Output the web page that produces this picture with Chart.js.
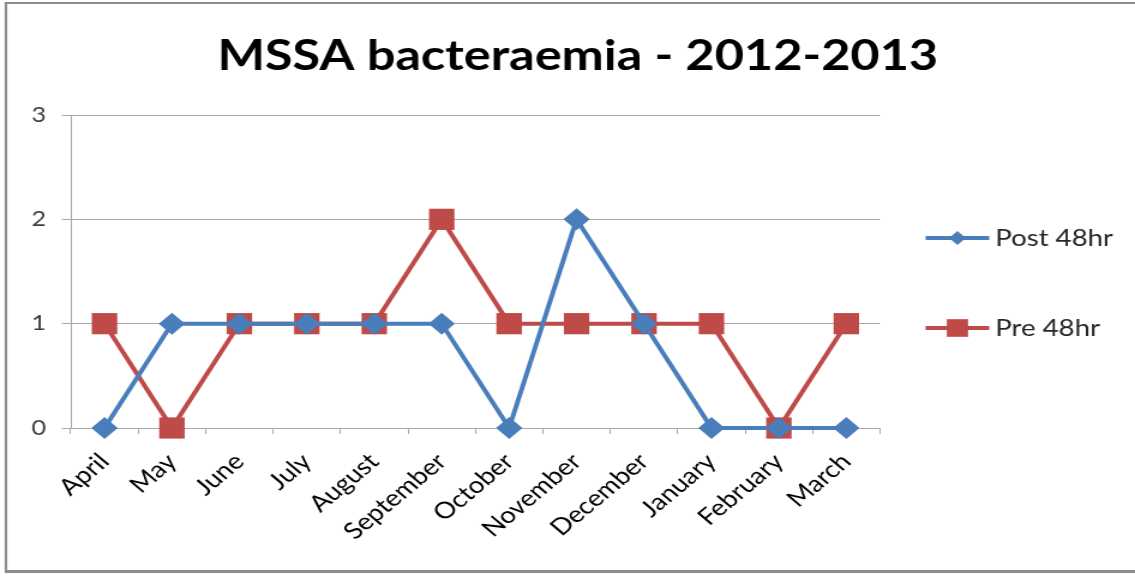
<!DOCTYPE html>
<html>
<head>
<meta charset="utf-8">
<script src="https://cdn.jsdelivr.net/npm/chart.js@4.4.1/dist/chart.umd.min.js"></script>
<style>
  html, body { margin: 0; padding: 0; background: #ffffff; overflow: hidden; }
  /* the drawing surface is laid out slightly narrower and shown widened to the page width */
  #chart { display: block; width: 1135px; height: 577px; }
</style>
</head>
<body>
<canvas id="chart" width="946" height="577" style="width:1135px;height:577px"></canvas>
<script>
// Monthly MSSA bacteraemia counts, April 2012 - March 2013
const months = ['April', 'May', 'June', 'July', 'August', 'September',
                'October', 'November', 'December', 'January', 'February', 'March'];
const post48hr = [0, 1, 1, 1, 1, 1, 0, 2, 1, 0, 0, 0];
const pre48hr  = [1, 0, 1, 1, 1, 2, 1, 1, 1, 1, 0, 1];
const yTicks = [0, 1, 2, 3];

const FONT = 'Lato, "Open Sans", sans-serif';
const BLUE = '#4a7ebb';
const RED = '#be4b48';
const GRID = '#a9a9a9';

// Outer frame around the chart
const framePlugin = {
  id: 'frame',
  beforeDraw(chart) {
    const ctx = chart.ctx;
    ctx.save();
    ctx.fillStyle = '#ffffff';
    ctx.fillRect(0, 0, chart.width, chart.height);
    ctx.strokeStyle = '#8c8c8c';
    ctx.lineWidth = 2.2;
    ctx.beginPath();
    ctx.moveTo(5, chart.height - 5);
    ctx.lineTo(5, 3);
    ctx.lineTo(chart.width + 2, 3);
    ctx.stroke();
    ctx.lineWidth = 3;
    ctx.beginPath();
    ctx.moveTo(4, chart.height - 5.5);
    ctx.lineTo(chart.width + 2, chart.height - 5.5);
    ctx.stroke();
    ctx.restore();
  }
};

// Legend on the right: line sample with marker, then label
const sideLegend = {
  id: 'sideLegend',
  afterDraw(chart) {
    const ctx = chart.ctx;
    const rows = [238, 328];
    const x0 = chart.chartArea.right + 38;
    chart.data.datasets.forEach((ds, i) => {
      const y = rows[i];
      ctx.save();
      ctx.strokeStyle = ds.borderColor;
      ctx.lineWidth = 4;
      ctx.beginPath();
      ctx.moveTo(x0, y);
      ctx.lineTo(x0 + 53, y);
      ctx.stroke();
      ctx.fillStyle = ds.backgroundColor;
      Chart.helpers.drawPoint(ctx, {
        pointStyle: ds.pointStyle,
        radius: ds.legendRadius,
        rotation: 0,
        borderWidth: 0
      }, x0 + 26.5, y);
      ctx.fillStyle = '#262626';
      ctx.font = '23px ' + FONT;
      ctx.textBaseline = 'middle';
      ctx.textAlign = 'left';
      ctx.fillText(ds.label, x0 + 58, y + 1);
      ctx.restore();
    });
  }
};

new Chart(document.getElementById('chart'), {
  type: 'line',
  data: {
    labels: months,
    datasets: [
      {
        label: 'Post 48hr',
        data: post48hr,
        borderColor: BLUE,
        backgroundColor: BLUE,
        borderWidth: 4,
        pointStyle: 'rectRot',
        pointRadius: 11,
        pointBorderWidth: 0,
        legendRadius: 7,
        tension: 0,
        clip: false
      },
      {
        label: 'Pre 48hr',
        data: pre48hr,
        borderColor: RED,
        backgroundColor: RED,
        borderWidth: 4,
        pointStyle: 'rect',
        pointRadius: 15,
        pointBorderWidth: 0,
        legendRadius: 12.5,
        tension: 0,
        clip: false
      }
    ]
  },
  options: {
    responsive: false,
    animation: false,
    layout: { padding: { left: 17, right: 0, top: 0, bottom: 0 } },
    plugins: {
      legend: { display: false },
      tooltip: { enabled: false },
      title: {
        display: true,
        text: 'MSSA bacteraemia - 2012-2013',
        color: '#000000',
        font: { family: FONT, size: 42, weight: 'bold', lineHeight: 1.2 },
        padding: { top: 31, bottom: 33.6 }
      }
    },
    scales: {
      x: {
        type: 'category',
        offset: true,
        grid: {
          offset: true,
          drawOnChartArea: false,
          drawTicks: true,
          tickLength: 6,
          color: GRID,
          lineWidth: 1
        },
        border: { display: true, color: GRID, width: 1 },
        ticks: {
          color: '#000000',
          font: { family: FONT, size: 23 },
          minRotation: 45,
          maxRotation: 45,
          autoSkip: false,
          padding: 14
        },
        afterFit(scale) { scale.height = 149; }
      },
      y: {
        type: 'linear',
        min: 0,
        max: 3,
        afterBuildTicks(scale) { scale.ticks = yTicks.map(v => ({ value: v })); },
        grid: {
          color: GRID,
          lineWidth: 1,
          drawTicks: true,
          tickLength: 7.5
        },
        border: { display: true, color: GRID, width: 1 },
        ticks: {
          color: '#404040',
          font: { family: FONT, size: 21 },
          padding: 13
        },
        afterFit(scale) { scale.width = 42; }
      },
      legendSpace: {
        type: 'linear',
        position: 'right',
        display: true,
        grid: { display: false },
        border: { display: false },
        ticks: { display: false },
        afterFit(scale) { scale.width = 212.5; }
      }
    }
  },
  plugins: [framePlugin, sideLegend]
});
</script>
</body>
</html>
